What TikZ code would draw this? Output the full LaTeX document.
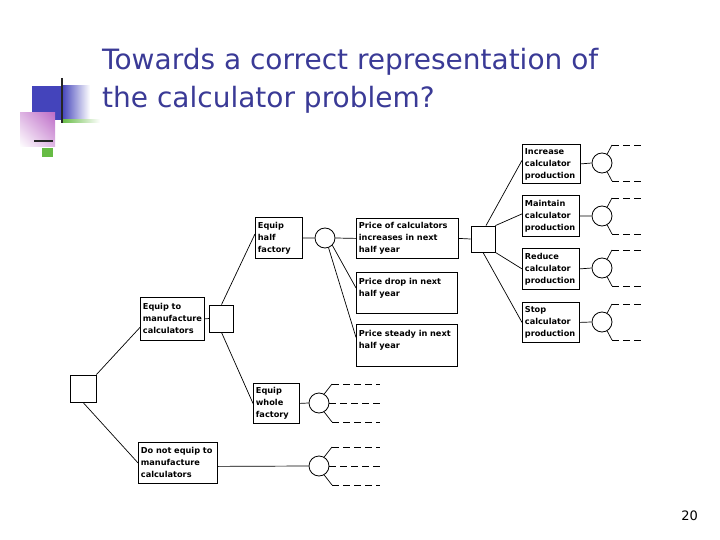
\documentclass[tikz,border=0pt]{standalone}
\usepackage{fontspec}
\setmainfont{DejaVu Sans}
\usetikzlibrary{calc, shadings}
\definecolor{titleblue}{RGB}{58,58,150}
\definecolor{logoblue}{RGB}{68,68,187}
\definecolor{logogreen}{RGB}{102,187,68}
\definecolor{logopink}{RGB}{190,110,200}

\begin{document}
\begin{tikzpicture}[x=1pt, y=-1pt,
    dbox/.style={draw, line width=0.8pt, anchor=north west, align=left, inner sep=2.5pt,
        font=\fontsize{8.2}{12}\selectfont\bfseries},
    decision/.style={draw, line width=0.8pt, inner sep=0pt, minimum width=24pt, minimum height=26pt},
    chance/.style={draw, circle, line width=0.8pt, inner sep=0pt, minimum size=20pt},
    link/.style={line width=0.7pt},
    stub/.style={line width=0.7pt, dash pattern=on 7pt off 4pt}]
    \useasboundingbox (0,0) rectangle (720,540);

    % Logo
    \fill[logoblue] (32,86) rectangle (62,120);
    \shade[left color=logoblue, right color=white] (62,86) rectangle (90,120);
    \shade[left color=logogreen, right color=white] (62,120) rectangle (100,123);
    \shade[upper right=logopink, upper left=logopink!50, lower right=logopink!50, lower left=white] (20,113) rectangle (55,147);
    \draw[line width=2pt, black!85] (62,78) -- (62,123);
    \draw[line width=2pt, black!85] (34,141) -- (53,141);
    \fill[logogreen] (42,148) rectangle (53,157);

    % Title
    \node[anchor=base west, inner sep=0pt, text=titleblue, font=\fontsize{28}{32}\selectfont] (title1) at (102,70) {Towards a correct representation of};
    \node[anchor=base west, inner sep=0pt, text=titleblue, font=\fontsize{28}{32}\selectfont] (title2) at (102,108) {the calculator problem?};

    % Decision nodes
    \node[decision, minimum width=26pt, minimum height=27pt] (root) at (83,388.5) {};
    \node[decision, minimum height=27pt] (sq2) at (221.5,318.5) {};
    \node[decision] (sq3) at (483,239) {};

    % Choices
    \node[dbox, text width=59pt, minimum height=43pt] (eqmf) at (140,297) {Equip to\\manufacture\\calculators};
    \node[dbox, text width=74pt, minimum height=41pt] (noeq) at (138,442) {Do not equip to\\manufacture\\calculators};
    \node[dbox, text width=42pt, minimum height=41pt] (half) at (255,217) {Equip\\half\\factory};
    \node[dbox, text width=41pt, minimum height=40pt] (whole) at (253,383) {Equip\\whole\\factory};

    % Chance nodes
    \node[chance] (c1) at (325,238) {};
    \node[chance] (cw) at (319,403) {};
    \node[chance] (cn) at (319,466) {};
    \node[chance] (ci) at (602,163) {};
    \node[chance] (cm) at (602,216) {};
    \node[chance] (cr) at (602,268) {};
    \node[chance] (cs) at (602,322) {};

    % Outcomes
    \node[dbox, text width=97pt, minimum height=40pt] (pinc) at (356,218) {Price of calculators\\increases in next\\half year};
    \node[dbox, text width=96pt, minimum height=41pt] (pdrop) at (356,272) {Price drop in next\\half year\\\mbox{}};
    \node[dbox, text width=96pt, minimum height=42pt] (pstdy) at (356,324) {Price steady in next\\half year\\\mbox{}};

    % Production choices
    \node[dbox, text width=53pt, minimum height=39pt] (incr) at (522,144) {Increase\\calculator\\production};
    \node[dbox, text width=52pt, minimum height=41pt] (maint) at (522,195) {Maintain\\calculator\\production};
    \node[dbox, text width=52pt, minimum height=41pt] (reduc) at (522,248) {Reduce\\calculator\\production};
    \node[dbox, text width=52pt, minimum height=40pt] (stop) at (522,302) {Stop\\calculator\\production};

    % Branches
    \draw[link] (root.north east) -- ([shift={(0,8.5)}]eqmf.west);
    \draw[link] (root.south) -- (noeq.west);
    \draw[link] (eqmf.east) -- (sq2.west);
    \draw[link] (sq2.north) -- ([shift={(0,-4)}]half.west);
    \draw[link] (sq2.south) -- (whole.west);
    \draw[link] (half.east) -- (c1.west);
    \draw[link] (c1.east) -- (pinc.west);
    \draw[link] (c1.-45) -- ([shift={(0,-5)}]pdrop.west);
    \draw[link] (c1.-70) -- ([shift={(0,-8)}]pstdy.west);
    \draw[link] (pinc.east) -- (sq3.west);
    \draw[link] ([xshift=3pt]sq3.north) -- ([shift={(0,-3.5)}]incr.west);
    \draw[link] (sq3.north east) -- ([shift={(0,-2)}]maint.west);
    \draw[link] (sq3.south east) -- (reduc.west);
    \draw[link] (sq3.south) -- (stop.west);
    \draw[link] (whole.east) -- (cw.west);
    \draw[link] ([shift={(0,3.5)}]noeq.east) -- (cn.west);
    \draw[link] (incr.east) -- (ci.west);
    \draw[link] (maint.east) -- (cm.west);
    \draw[link] (reduc.east) -- (cr.west);
    \draw[link] (stop.east) -- (cs.west);

    % Open ends
    \foreach \c in {ci,cm,cr,cs} {
        \draw[link] (\c.60) -- ([shift={(10,-18)}]\c.center) coordinate (\c-up);
        \draw[link] (\c.-60) -- ([shift={(10,18)}]\c.center) coordinate (\c-dn);
        \draw[stub] (\c-up) -- ++(30,0);
        \draw[stub] (\c-dn) -- ++(30,0);
    }
    \foreach \c in {cw,cn} {
        \draw[link] (\c.60) -- ([shift={(13,-19)}]\c.center) coordinate (\c-up);
        \draw[link] (\c.-60) -- ([shift={(13,19)}]\c.center) coordinate (\c-dn);
        \draw[stub] (\c-up) -- ++(48,0);
        \draw[stub] (\c.east) -- ++(51,0);
        \draw[stub] (\c-dn) -- ++(48,0);
    }

    % Page number
    \node[anchor=base east, inner sep=0pt, font=\fontsize{13}{15}\selectfont] (pnum) at (698,520) {20};
\end{tikzpicture}
\end{document}
